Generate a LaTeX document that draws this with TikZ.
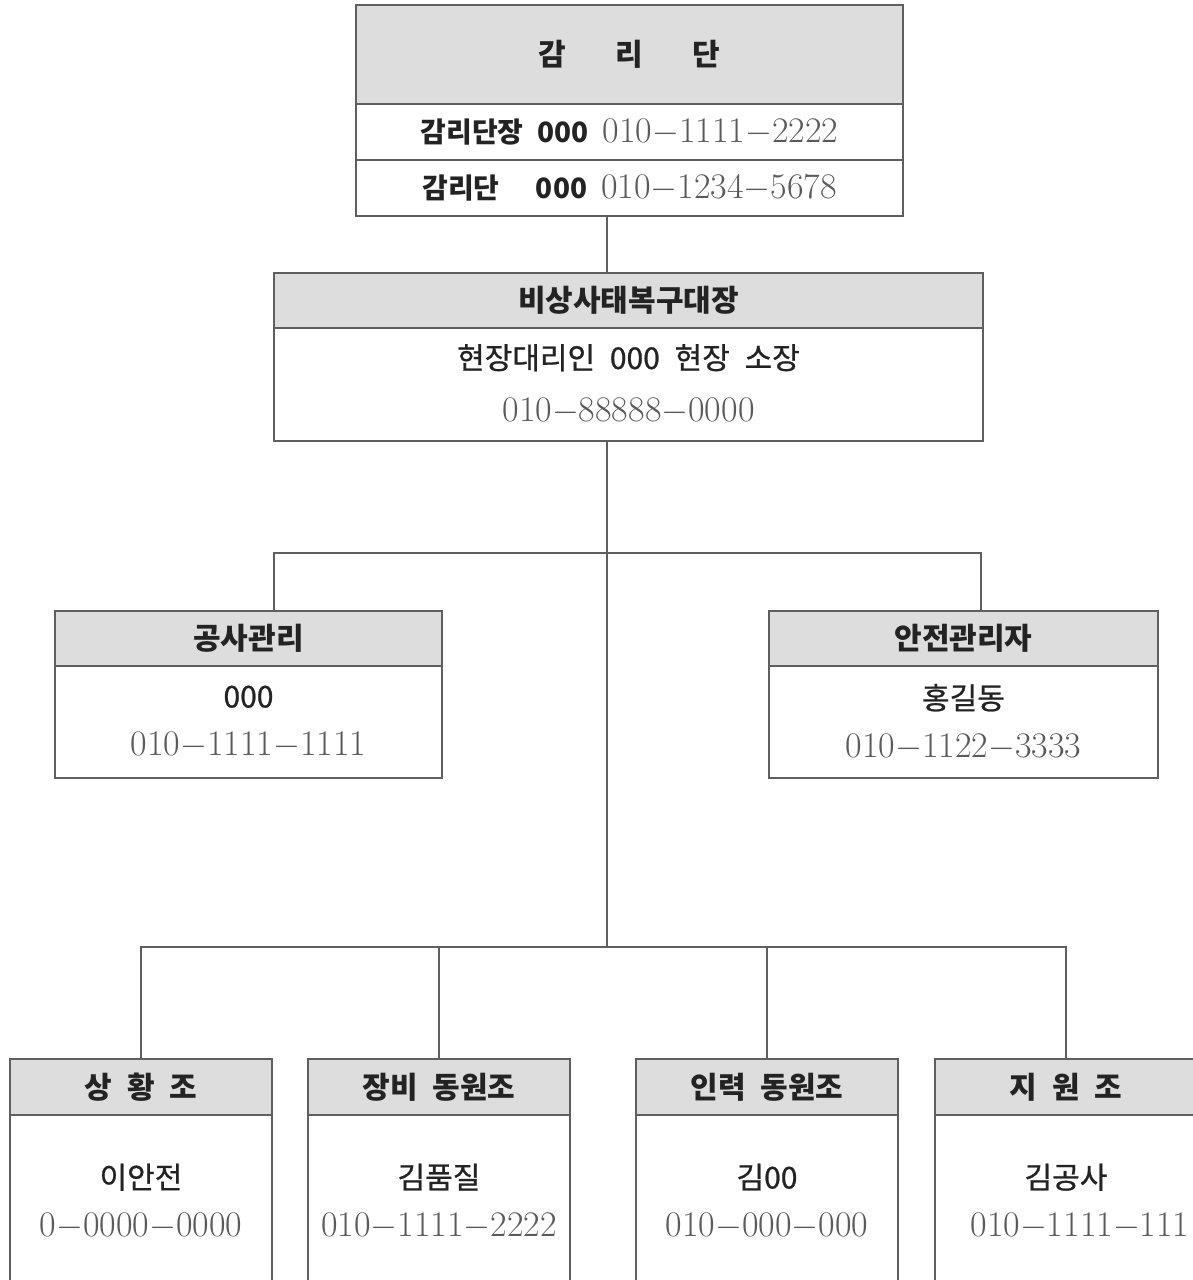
\documentclass[tikz,border=0pt]{standalone}
\usepackage{fontspec}
\usepackage{tikz}
\usetikzlibrary{positioning}
\newfontfamily\kr[WordSpace=2.2]{Noto Sans CJK KR}
\newfontfamily\krm[WordSpace=2.2,FakeBold=0.8]{Noto Sans CJK KR}
\definecolor{hdgray}{RGB}{221,221,221}
\definecolor{linec}{RGB}{95,95,95}
\definecolor{txtc}{RGB}{35,35,35}
\definecolor{phc}{RGB}{90,90,90}
\newcommand{\ph}[1]{{\normalfont\fontsize{18}{20}\selectfont\color{phc}#1}}
\tikzset{
  basic/.style = {draw=linec, line width=0.7pt, inner sep=0pt, outer sep=0pt,
                  text=txtc, rectangle},
  head/.style  = {basic, fill=hdgray, font=\kr\bfseries\fontsize{15}{18}\selectfont},
  body/.style  = {basic, fill=white, align=center, font=\krm\fontsize{15}{24}\selectfont},
  row/.style   = {basic, fill=white, font=\kr\bfseries\fontsize{14}{16}\selectfont},
  link/.style  = {draw=linec, line width=0.55pt}
}

\begin{document}
\begin{tikzpicture}[x=0.5pt, y=-0.5pt]
\useasboundingbox (0,0) rectangle (1193,1280);
\clip (0,0) rectangle (1193,1280);

% supervision team, top
\node[head, minimum width=273.5pt, minimum height=49.5pt] (gamhd) at (629.5,54.5) {감\hspace{1.65em}리\hspace{1.65em}단};
\node[row, minimum width=273.5pt, minimum height=28pt, below=0pt of gamhd] (gam1) {감리단장 000 \ph{010$-$1111$-$2222}};
\node[row, minimum width=273.5pt, minimum height=28pt, below=0pt of gam1] (gam2) {감리단\hspace{1.3em}000 \ph{010$-$1234$-$5678}};

% recovery chief
\node[head, minimum width=354.5pt, minimum height=27.5pt] (bokhd) at (628.5,300.5) {비상사태복구대장};
\node[body, minimum width=354.5pt, minimum height=56.5pt, below=0pt of bokhd] (bokbd) {현장대리인 000 현장 소장\\[2.5pt]\ph{010$-$88888$-$0000}};

% second level
\node[head, minimum width=193.5pt, minimum height=27.5pt] (gonghd) at (248.5,638.5) {공사관리};
\node[body, minimum width=193.5pt, minimum height=56pt, below=0pt of gonghd] (gongbd) {000\\\ph{010$-$1111$-$1111}};
\node[head, minimum width=194.5pt, minimum height=27.5pt] (anhd) at (963.5,638.5) {안전관리자};
\node[body, minimum width=194.5pt, minimum height=56pt, below=0pt of anhd] (anbd) {홍길동\\\ph{010$-$1122$-$3333}};

% teams, bottom
\node[head, minimum width=131pt, minimum height=28pt] (sanghd) at (141,1087) {상 황 조};
\node[body, minimum width=131pt, minimum height=86.5pt, below=0pt of sanghd] (sangbd) {이안전\\\ph{0$-$0000$-$0000}};
\node[head, minimum width=131pt, minimum height=28pt] (janghd) at (439,1087) {장비 동원조};
\node[body, minimum width=131pt, minimum height=86.5pt, below=0pt of janghd] (jangbd) {김품질\\\ph{010$-$1111$-$2222}};
\node[head, minimum width=131pt, minimum height=28pt] (inhd) at (767,1087) {인력 동원조};
\node[body, minimum width=131pt, minimum height=86.5pt, below=0pt of inhd] (inbd) {김00\\\ph{010$-$000$-$000}};
\node[head, minimum width=131pt, minimum height=28pt] (jiwonhd) at (1066,1087) {지 원 조};
\node[body, minimum width=131pt, minimum height=86.5pt, below=0pt of jiwonhd] (jiwonbd) {김공사\\\hspace*{14pt}\ph{010$-$1111$-$111}};

% connectors
\coordinate (trunk) at (607,0);
\coordinate (ja) at (274,553);
\coordinate (jb) at (981,553);
\coordinate (bus) at (0,947);

\draw[link] (gam2.south -| trunk) -- (bokhd.north -| trunk);
\draw[link] (bokbd.south -| trunk) -- (trunk |- bus);
\draw[link] (gonghd.north -| ja) |- (jb) -- (anhd.north -| jb);
\draw[link] (sanghd.north) |- (jiwonhd.north |- bus) -- (jiwonhd.north);
\foreach \n in {janghd,inhd}
  \draw[link] (\n.north) -- (\n.north |- bus);
\end{tikzpicture}
\end{document}
